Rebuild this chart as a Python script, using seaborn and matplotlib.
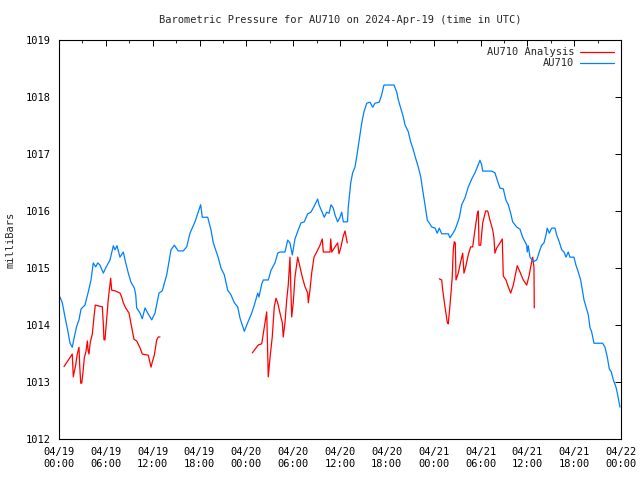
"""Barometric pressure for AU710, gnuplot-like look, drawn with seaborn."""

import numpy as np
import pandas as pd
import matplotlib
matplotlib.use("Agg")
import matplotlib.pyplot as plt
import matplotlib.dates as mdates
from matplotlib.ticker import MultipleLocator
import seaborn as sns

# ── Data (hours since 2024-04-19 00:00 UTC, milliBars) ─────────────
START = pd.Timestamp("2024-04-19 00:00")

obs_hours = [
    0.00, 0.13, 0.42, 0.77, 1.11, 1.41, 1.70, 1.96, 2.27, 2.56, 2.82, 3.33, 3.75, 4.10,
    4.39, 4.70, 4.96, 5.25, 5.68, 5.98, 6.53, 6.96, 7.17, 7.43, 7.81, 8.24, 8.46, 8.88,
    9.22, 9.65, 9.83, 9.95, 10.38, 10.67, 11.02, 11.36, 11.88, 12.30, 12.81, 13.23, 13.80,
    14.35, 14.77, 15.28, 15.92, 16.36, 16.78, 17.42, 18.15, 18.36, 19.05, 19.47, 19.77,
    20.07, 20.41, 20.75, 21.18, 21.61, 22.03, 22.46, 22.89, 23.19, 23.74, 24.17, 24.69,
    25.02, 25.46, 25.62, 25.97, 26.17, 26.81, 27.16, 27.67, 28.02, 28.31, 28.95, 29.30,
    29.59, 29.89, 30.23, 30.66, 31.00, 31.42, 31.86, 32.28, 32.71, 33.14, 33.31, 33.65,
    33.99, 34.29, 34.59, 34.85, 35.14, 35.36, 35.70, 36.00, 36.22, 36.42, 36.96, 37.06,
    37.37, 37.62, 37.92, 38.14, 38.47, 38.78, 39.07, 39.42, 39.84, 40.19, 40.48, 41.03,
    41.34, 41.63, 42.92, 43.26, 43.47, 43.77, 44.11, 44.33, 44.75, 45.06, 45.31, 45.64,
    46.03, 46.34, 46.59, 46.89, 47.18, 47.44, 47.75, 48.17, 48.46, 48.72, 49.03, 49.87,
    50.09, 50.43, 50.73, 50.95, 51.28, 51.59, 52.01, 52.43, 52.87, 53.29, 53.59, 53.93,
    54.15, 54.28, 55.43, 55.85, 56.15, 56.50, 56.92, 57.26, 57.56, 57.87, 58.12, 58.63,
    59.06, 59.40, 59.70, 59.92, 59.99, 60.12, 60.34, 60.76, 61.20, 61.62, 61.84, 62.13,
    62.39, 62.55, 62.81, 63.12, 63.54, 63.76, 64.09, 64.40, 64.69, 64.95, 65.24, 65.46,
    65.97, 66.23, 66.53, 66.83, 67.09, 67.26, 67.51, 67.81, 68.03, 68.24, 68.54, 69.65,
    69.95, 70.24, 70.50, 70.75, 71.01, 71.36, 71.52, 71.78, 71.87,
]
obs_mbar = [
    1014.51, 1014.49, 1014.39, 1014.14, 1013.91, 1013.68, 1013.61, 1013.79, 1013.98,
    1014.09, 1014.28, 1014.35, 1014.58, 1014.79, 1015.09, 1015.02, 1015.09, 1015.05,
    1014.91, 1015.00, 1015.14, 1015.39, 1015.32, 1015.39, 1015.19, 1015.28, 1015.14,
    1014.91, 1014.75, 1014.65, 1014.53, 1014.30, 1014.21, 1014.11, 1014.30, 1014.21,
    1014.09, 1014.21, 1014.56, 1014.60, 1014.88, 1015.32, 1015.40, 1015.30, 1015.30,
    1015.37, 1015.61, 1015.81, 1016.11, 1015.89, 1015.89, 1015.67, 1015.44, 1015.32,
    1015.18, 1015.00, 1014.88, 1014.61, 1014.53, 1014.39, 1014.32, 1014.12, 1013.89,
    1014.04, 1014.21, 1014.35, 1014.56, 1014.49, 1014.72, 1014.79, 1014.79, 1014.96,
    1015.09, 1015.26, 1015.28, 1015.28, 1015.49, 1015.44, 1015.23, 1015.51, 1015.67,
    1015.79, 1015.81, 1015.95, 1015.98, 1016.09, 1016.21, 1016.11, 1016.00, 1015.89,
    1015.98, 1015.96, 1016.11, 1016.05, 1015.93, 1015.81, 1015.89, 1015.98, 1015.81,
    1015.81, 1016.07, 1016.49, 1016.67, 1016.77, 1016.95, 1017.25, 1017.54, 1017.74,
    1017.89, 1017.91, 1017.82, 1017.89, 1017.91, 1018.04, 1018.21, 1018.21, 1018.09,
    1017.95, 1017.81, 1017.65, 1017.51, 1017.39, 1017.21, 1017.11, 1016.95, 1016.77,
    1016.60, 1016.37, 1016.11, 1015.84, 1015.79, 1015.72, 1015.70, 1015.61, 1015.70,
    1015.60, 1015.60, 1015.53, 1015.60, 1015.67, 1015.75, 1015.88, 1016.11, 1016.23,
    1016.42, 1016.56, 1016.67, 1016.77, 1016.89, 1016.81, 1016.70, 1016.70, 1016.67,
    1016.54, 1016.40, 1016.39, 1016.19, 1016.11, 1015.96, 1015.81, 1015.72, 1015.68,
    1015.54, 1015.46, 1015.40, 1015.28, 1015.39, 1015.19, 1015.11, 1015.14, 1015.32,
    1015.40, 1015.44, 1015.58, 1015.70, 1015.61, 1015.70, 1015.70, 1015.58, 1015.46,
    1015.32, 1015.28, 1015.19, 1015.28, 1015.19, 1015.19, 1015.05, 1014.93, 1014.79,
    1014.58, 1014.44, 1014.32, 1014.18, 1013.95, 1013.88, 1013.68, 1013.68, 1013.61,
    1013.44, 1013.23, 1013.18, 1013.04, 1012.91, 1012.81, 1012.63, 1012.56,
]

# analysis: three separate pieces
ana1_hours = [
    0.64, 1.70, 1.83, 1.96, 2.14, 2.34, 2.56, 2.65, 2.78, 2.91, 3.07, 3.24, 3.46, 3.63,
    3.72, 3.84, 4.01, 4.27, 4.48, 4.65, 5.16, 5.55, 5.67, 5.76, 5.89, 6.02, 6.32, 6.62,
    6.75, 7.17, 7.81, 8.03, 8.24, 8.54, 8.97, 9.31, 9.61, 9.95, 10.38, 10.67, 11.44,
    11.79, 11.95, 12.21, 12.52, 12.72, 12.94,
]
ana1_mbar = [
    1013.27, 1013.49, 1013.09, 1013.18, 1013.30, 1013.49, 1013.61, 1013.30, 1012.98,
    1012.98, 1013.16, 1013.42, 1013.54, 1013.72, 1013.56, 1013.49, 1013.70, 1013.84,
    1014.14, 1014.35, 1014.33, 1014.32, 1014.04, 1013.74, 1013.74, 1013.96, 1014.46,
    1014.82, 1014.61, 1014.60, 1014.56, 1014.49, 1014.39, 1014.30, 1014.21, 1013.96,
    1013.75, 1013.72, 1013.60, 1013.49, 1013.47, 1013.26, 1013.35, 1013.47, 1013.74,
    1013.79, 1013.79,
]
ana2_hours = [
    24.76, 25.53, 25.97, 26.39, 26.61, 26.81, 27.03, 27.32, 27.58, 27.80, 28.02, 28.31,
    28.61, 28.73, 28.95, 29.17, 29.37, 29.59, 29.81, 30.01, 30.23, 30.58, 30.87, 31.17,
    31.52, 31.86, 31.94, 32.15, 32.37, 32.67, 33.01, 33.44, 33.73, 33.86, 34.72, 34.81,
    34.94, 35.27, 35.70, 35.87, 36.09, 36.42, 36.64, 36.93,
]
ana2_mbar = [
    1013.51, 1013.65, 1013.67, 1014.04, 1014.23, 1013.09, 1013.42, 1013.79, 1014.32,
    1014.47, 1014.39, 1014.21, 1014.04, 1013.79, 1014.04, 1014.44, 1014.70, 1015.19,
    1014.14, 1014.39, 1014.84, 1015.19, 1015.02, 1014.84, 1014.67, 1014.56, 1014.39,
    1014.61, 1014.91, 1015.19, 1015.28, 1015.40, 1015.51, 1015.28, 1015.28, 1015.51,
    1015.28, 1015.35, 1015.44, 1015.25, 1015.35, 1015.56, 1015.65, 1015.44,
]
ana3_hours = [
    48.72, 49.03, 49.16, 49.45, 49.74, 49.87, 50.00, 50.22, 50.38, 50.51, 50.64, 50.77,
    50.86, 51.15, 51.46, 51.72, 51.88, 52.10, 52.43, 52.74, 53.00, 53.29, 53.59, 53.72,
    53.81, 54.02, 54.28, 54.66, 54.92, 55.21, 55.56, 55.72, 55.85, 56.07, 56.50, 56.79,
    56.92, 57.26, 57.56, 57.87, 58.20, 58.54, 58.71, 59.06, 59.48, 59.92, 60.25, 60.47,
    60.68, 60.85, 60.89,
]
ana3_mbar = [
    1014.81, 1014.79, 1014.61, 1014.32, 1014.05, 1014.02, 1014.21, 1014.56, 1014.84,
    1015.32, 1015.46, 1015.44, 1014.79, 1014.91, 1015.11, 1015.26, 1014.91, 1015.02,
    1015.23, 1015.37, 1015.37, 1015.67, 1015.95, 1016.00, 1015.40, 1015.40, 1015.79,
    1016.00, 1016.00, 1015.84, 1015.67, 1015.53, 1015.26, 1015.35, 1015.44, 1015.51,
    1014.86, 1014.79, 1014.67, 1014.56, 1014.70, 1014.93, 1015.04, 1014.93, 1014.79,
    1014.70, 1014.88, 1015.05, 1015.19, 1015.02, 1014.30,
]

# ── Build long table ───────────────────────────────────────────────
pieces = [
    ("AU710", "obs", obs_hours, obs_mbar),
    ("AU710 Analysis", "a1", ana1_hours, ana1_mbar),
    ("AU710 Analysis", "a2", ana2_hours, ana2_mbar),
    ("AU710 Analysis", "a3", ana3_hours, ana3_mbar),
]
frames = []
for name, seg, hrs, vals in pieces:
    frames.append(pd.DataFrame({
        "time": START + pd.to_timedelta(np.array(hrs), unit="h"),
        "pressure": vals,
        "series": name,
        "seg": seg,
    }))
df = pd.concat(frames, ignore_index=True)

# ── Style ──────────────────────────────────────────────────────────
sns.set_style("white")
plt.rcParams["font.family"] = ["DejaVu Sans Mono"]
plt.rcParams.update({
    "font.size": 7.5,
    "xtick.direction": "in",
    "ytick.direction": "in",
    "xtick.top": True,
    "ytick.right": True,
    "axes.edgecolor": "black",
    "axes.linewidth": 0.8,
})

PALETTE = {"AU710 Analysis": "#ff0000", "AU710": "#0080ff"}

fig = plt.figure(figsize=(6.4, 4.8), dpi=100)
ax = fig.add_axes([59 / 640, 1 - 439 / 480, 562 / 640, 399 / 480])

sns.lineplot(
    data=df, x="time", y="pressure", hue="series", units="seg",
    estimator=None, sort=False, palette=PALETTE,
    hue_order=["AU710 Analysis", "AU710"], linewidth=0.9, ax=ax,
)

ax.set_xlim(START, START + pd.Timedelta(hours=72))
ax.set_ylim(1012, 1019)
ax.xaxis.set_major_locator(mdates.HourLocator(byhour=range(0, 24, 6)))
ax.xaxis.set_minor_locator(mdates.HourLocator(byhour=range(3, 24, 6)))
ax.xaxis.set_major_formatter(mdates.DateFormatter("%m/%d\n%H:%M"))
ax.yaxis.set_major_locator(MultipleLocator(1))
ax.tick_params(which="major", length=4, width=0.7, colors="black", labelsize=7.5)
ax.tick_params(which="minor", length=2, width=0.7)
ax.tick_params(axis="x", pad=6)
ax.tick_params(axis="y", pad=6)

ax.set_xlabel("")
ax.set_ylabel("milliBars", fontsize=7.5)
ax.yaxis.set_label_coords((16 - 59) / 562, 0.5)
ax.set_title("")
fig.text(340 / 640, 1 - 20 / 480,
         "Barometric Pressure for AU710 on 2024-Apr-19 (time in UTC)",
         ha="center", va="center", fontsize=7.5)

ax.legend(loc="upper right", frameon=False, markerfirst=False, fontsize=7.5,
          handlelength=3.2, handletextpad=0.6, borderaxespad=0.3,
          labelspacing=0.1)

fig.savefig("out.png", dpi=100)
